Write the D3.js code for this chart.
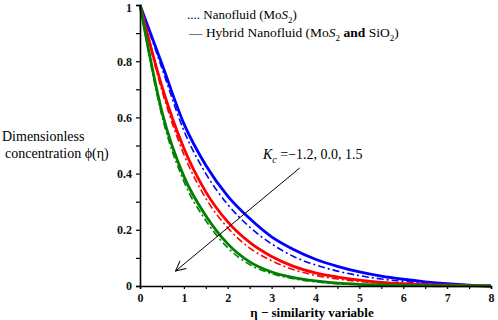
<!DOCTYPE html>
<html lang="en">
<head>
    <meta charset="UTF-8">
    <script src="https://d3js.org/d3.v7.min.js"></script>
    <style>
        body {margin: 0; background-color: #ffffff}
        svg {display: block;}
        svg text {font-family: 'Liberation Serif', 'Times New Roman', 'DejaVu Serif', serif;}
    </style>
</head>
<body>
<svg class="chart"></svg>
<script type="text/javascript">
    // eta grid and concentration profiles
    let eta = [0, 0.5, 1, 1.5, 2, 2.5, 3, 3.5, 4, 4.5, 5, 5.5, 6, 6.5, 7, 7.5, 8];
    let blue_hybrid = [1, 0.79, 0.578, 0.43, 0.32, 0.24, 0.175, 0.13, 0.095, 0.07, 0.05, 0.035, 0.024, 0.015, 0.008, 0.003, 0];
    let blue_nano   = [1, 0.775, 0.553, 0.40, 0.29, 0.21, 0.15, 0.105, 0.075, 0.053, 0.037, 0.025, 0.016, 0.01, 0.005, 0.002, 0];
    let red_hybrid  = [1, 0.71, 0.49, 0.335, 0.228, 0.155, 0.105, 0.07, 0.047, 0.032, 0.021, 0.013, 0.008, 0.005, 0.003, 0.001, 0];
    let red_nano    = [1, 0.695, 0.468, 0.312, 0.207, 0.135, 0.09, 0.058, 0.038, 0.025, 0.016, 0.01, 0.006, 0.003, 0.002, 0.001, 0];
    let green_hybrid = [1, 0.62, 0.39, 0.25, 0.15, 0.086, 0.05, 0.03, 0.018, 0.01, 0.006, 0.004, 0.002, 0.001, 0.0005, 0.0002, 0];
    let green_nano   = [1, 0.605, 0.372, 0.233, 0.136, 0.076, 0.044, 0.026, 0.015, 0.008, 0.005, 0.003, 0.002, 0.001, 0.0004, 0.0001, 0];
    let x_ticks = [0, 1, 2, 3, 4, 5, 6, 7, 8];
    let y_ticks = [0, 0.2, 0.4, 0.6, 0.8, 1];
    // arrow for increasing Kc, in data units
    let arrow_from = [3.64, 0.42];
    let arrow_to = [0.81, 0.053];

    let width = 498, height = 320;
    let serif = "'Liberation Serif', 'Times New Roman', 'DejaVu Serif', serif";
    let svg = d3.select('.chart').attr('width', width).attr('height', height)
        .attr('font-family', serif);

    let x = d3.scaleLinear().domain([0, 8]).range([140, 491]);
    let y = d3.scaleLinear().domain([0, 1]).range([286, 5]);

    let series = [
        {values: blue_nano, color: '#0000ff', dash: '7,3,2,3', w: 1.6},
        {values: red_nano, color: '#ff0000', dash: '7,3,2,3', w: 1.6},
        {values: green_nano, color: '#008000', dash: '7,3,2,3', w: 1.6},
        {values: blue_hybrid, color: '#0000ff', dash: null, w: 2.8},
        {values: red_hybrid, color: '#ff0000', dash: null, w: 2.8},
        {values: green_hybrid, color: '#008000', dash: null, w: 2.8}
    ];

    let line = d3.line()
        .x(function (d, i) { return x(eta[i]); })
        .y(function (d) { return y(d); })
        .curve(d3.curveMonotoneX);

    series.forEach(s => {
        svg.append('path')
            .attr('d', line(s.values))
            .attr('fill', 'none')
            .attr('stroke', s.color)
            .attr('stroke-width', s.w)
            .attr('stroke-dasharray', s.dash);
    });

    // axes
    let x_axis = d3.axisBottom(x).tickValues(d3.range(0, 8.01, 0.5)).tickSize(3)
        .tickFormat(d => x_ticks.includes(d) ? d : '');
    let gx = svg.append('g').attr('transform', 'translate(0,' + y(0) + ')').call(x_axis);
    let y_axis = d3.axisLeft(y).tickValues(d3.range(0, 1.001, 0.1).map(v => +v.toFixed(1))).tickSize(4)
        .tickFormat(d => y_ticks.includes(d) ? d : '');
    let gy = svg.append('g').attr('transform', 'translate(' + x(0) + ',0)').call(y_axis);

    [gx, gy].forEach(g => {
        g.attr('font-family', serif);
        g.select('.domain').attr('stroke', '#000').attr('stroke-width', 1.6);
        g.selectAll('.tick line').attr('stroke', '#000').attr('stroke-width', 1.2);
        g.selectAll('.tick text').style('font-family', serif)
            .attr('font-size', 12).attr('font-weight', 'bold').attr('fill', '#111');
    });
    gx.selectAll('.tick text').attr('dy', '0.85em');
    gy.selectAll('.tick text').attr('dx', '-1');
    gy.selectAll('.tick text').filter(d => d === 1).attr('dy', '0.55em');

    // arrow
    let defs = svg.append('defs');
    defs.append('marker').attr('id', 'head').attr('viewBox', '0 0 12 12')
        .attr('refX', 11).attr('refY', 6).attr('markerWidth', 12).attr('markerHeight', 12)
        .attr('markerUnits', 'userSpaceOnUse').attr('orient', 'auto')
        .append('path').attr('d', 'M1,1 L11,6 L1,11').attr('fill', 'none')
        .attr('stroke', '#000').attr('stroke-width', 1);
    svg.append('line')
        .attr('x1', x(arrow_from[0])).attr('y1', y(arrow_from[1]))
        .attr('x2', x(arrow_to[0])).attr('y2', y(arrow_to[1]))
        .attr('stroke', '#000').attr('stroke-width', 1)
        .attr('marker-end', 'url(#head)');

    // Kc label
    let kc = svg.append('text').attr('x', 263).attr('y', 159).attr('font-size', 14).attr('fill', '#000');
    kc.append('tspan').attr('font-style', 'italic').text('K');
    kc.append('tspan').attr('font-style', 'italic').attr('font-size', 10).attr('dy', 4).text('c');
    kc.append('tspan').attr('dy', -4).text(' =\u22121.2, 0.0, 1.5');

    // legend
    let leg1 = svg.append('text').attr('x', 187).attr('y', 19).attr('font-size', 13).attr('fill', '#000');
    leg1.append('tspan').text('.... Nanofluid (Mo');
    leg1.append('tspan').attr('font-style', 'italic').text('S');
    leg1.append('tspan').attr('font-size', 9).attr('dy', 4).text('2');
    leg1.append('tspan').attr('dy', -4).text(')');

    let leg2 = svg.append('text').attr('x', 189).attr('y', 37).attr('font-size', 13.5).attr('fill', '#000');
    leg2.append('tspan').text('\u2014  Hybrid Nanofluid (Mo');
    leg2.append('tspan').attr('font-style', 'italic').text('S');
    leg2.append('tspan').attr('font-size', 9).attr('dy', 4).text('2');
    leg2.append('tspan').attr('dy', -4).attr('font-weight', 'bold').text(' and ');
    leg2.append('tspan').text('SiO');
    leg2.append('tspan').attr('font-size', 9).attr('dy', 4).text('2');
    leg2.append('tspan').attr('dy', -4).text(')');

    // axis titles
    svg.append('text').attr('x', 2).attr('y', 141).attr('font-size', 14).attr('fill', '#000').text('Dimensionless');
    svg.append('text').attr('x', 5).attr('y', 158).attr('font-size', 14).attr('fill', '#000').text('concentration \u03d5(\u03b7)');
    svg.append('text').attr('x', 312).attr('y', 317).attr('text-anchor', 'middle')
        .attr('font-size', 13).attr('font-weight', 'bold').attr('fill', '#000')
        .text('\u03b7 \u2212 similarity variable');
</script>
</body>
</html>
